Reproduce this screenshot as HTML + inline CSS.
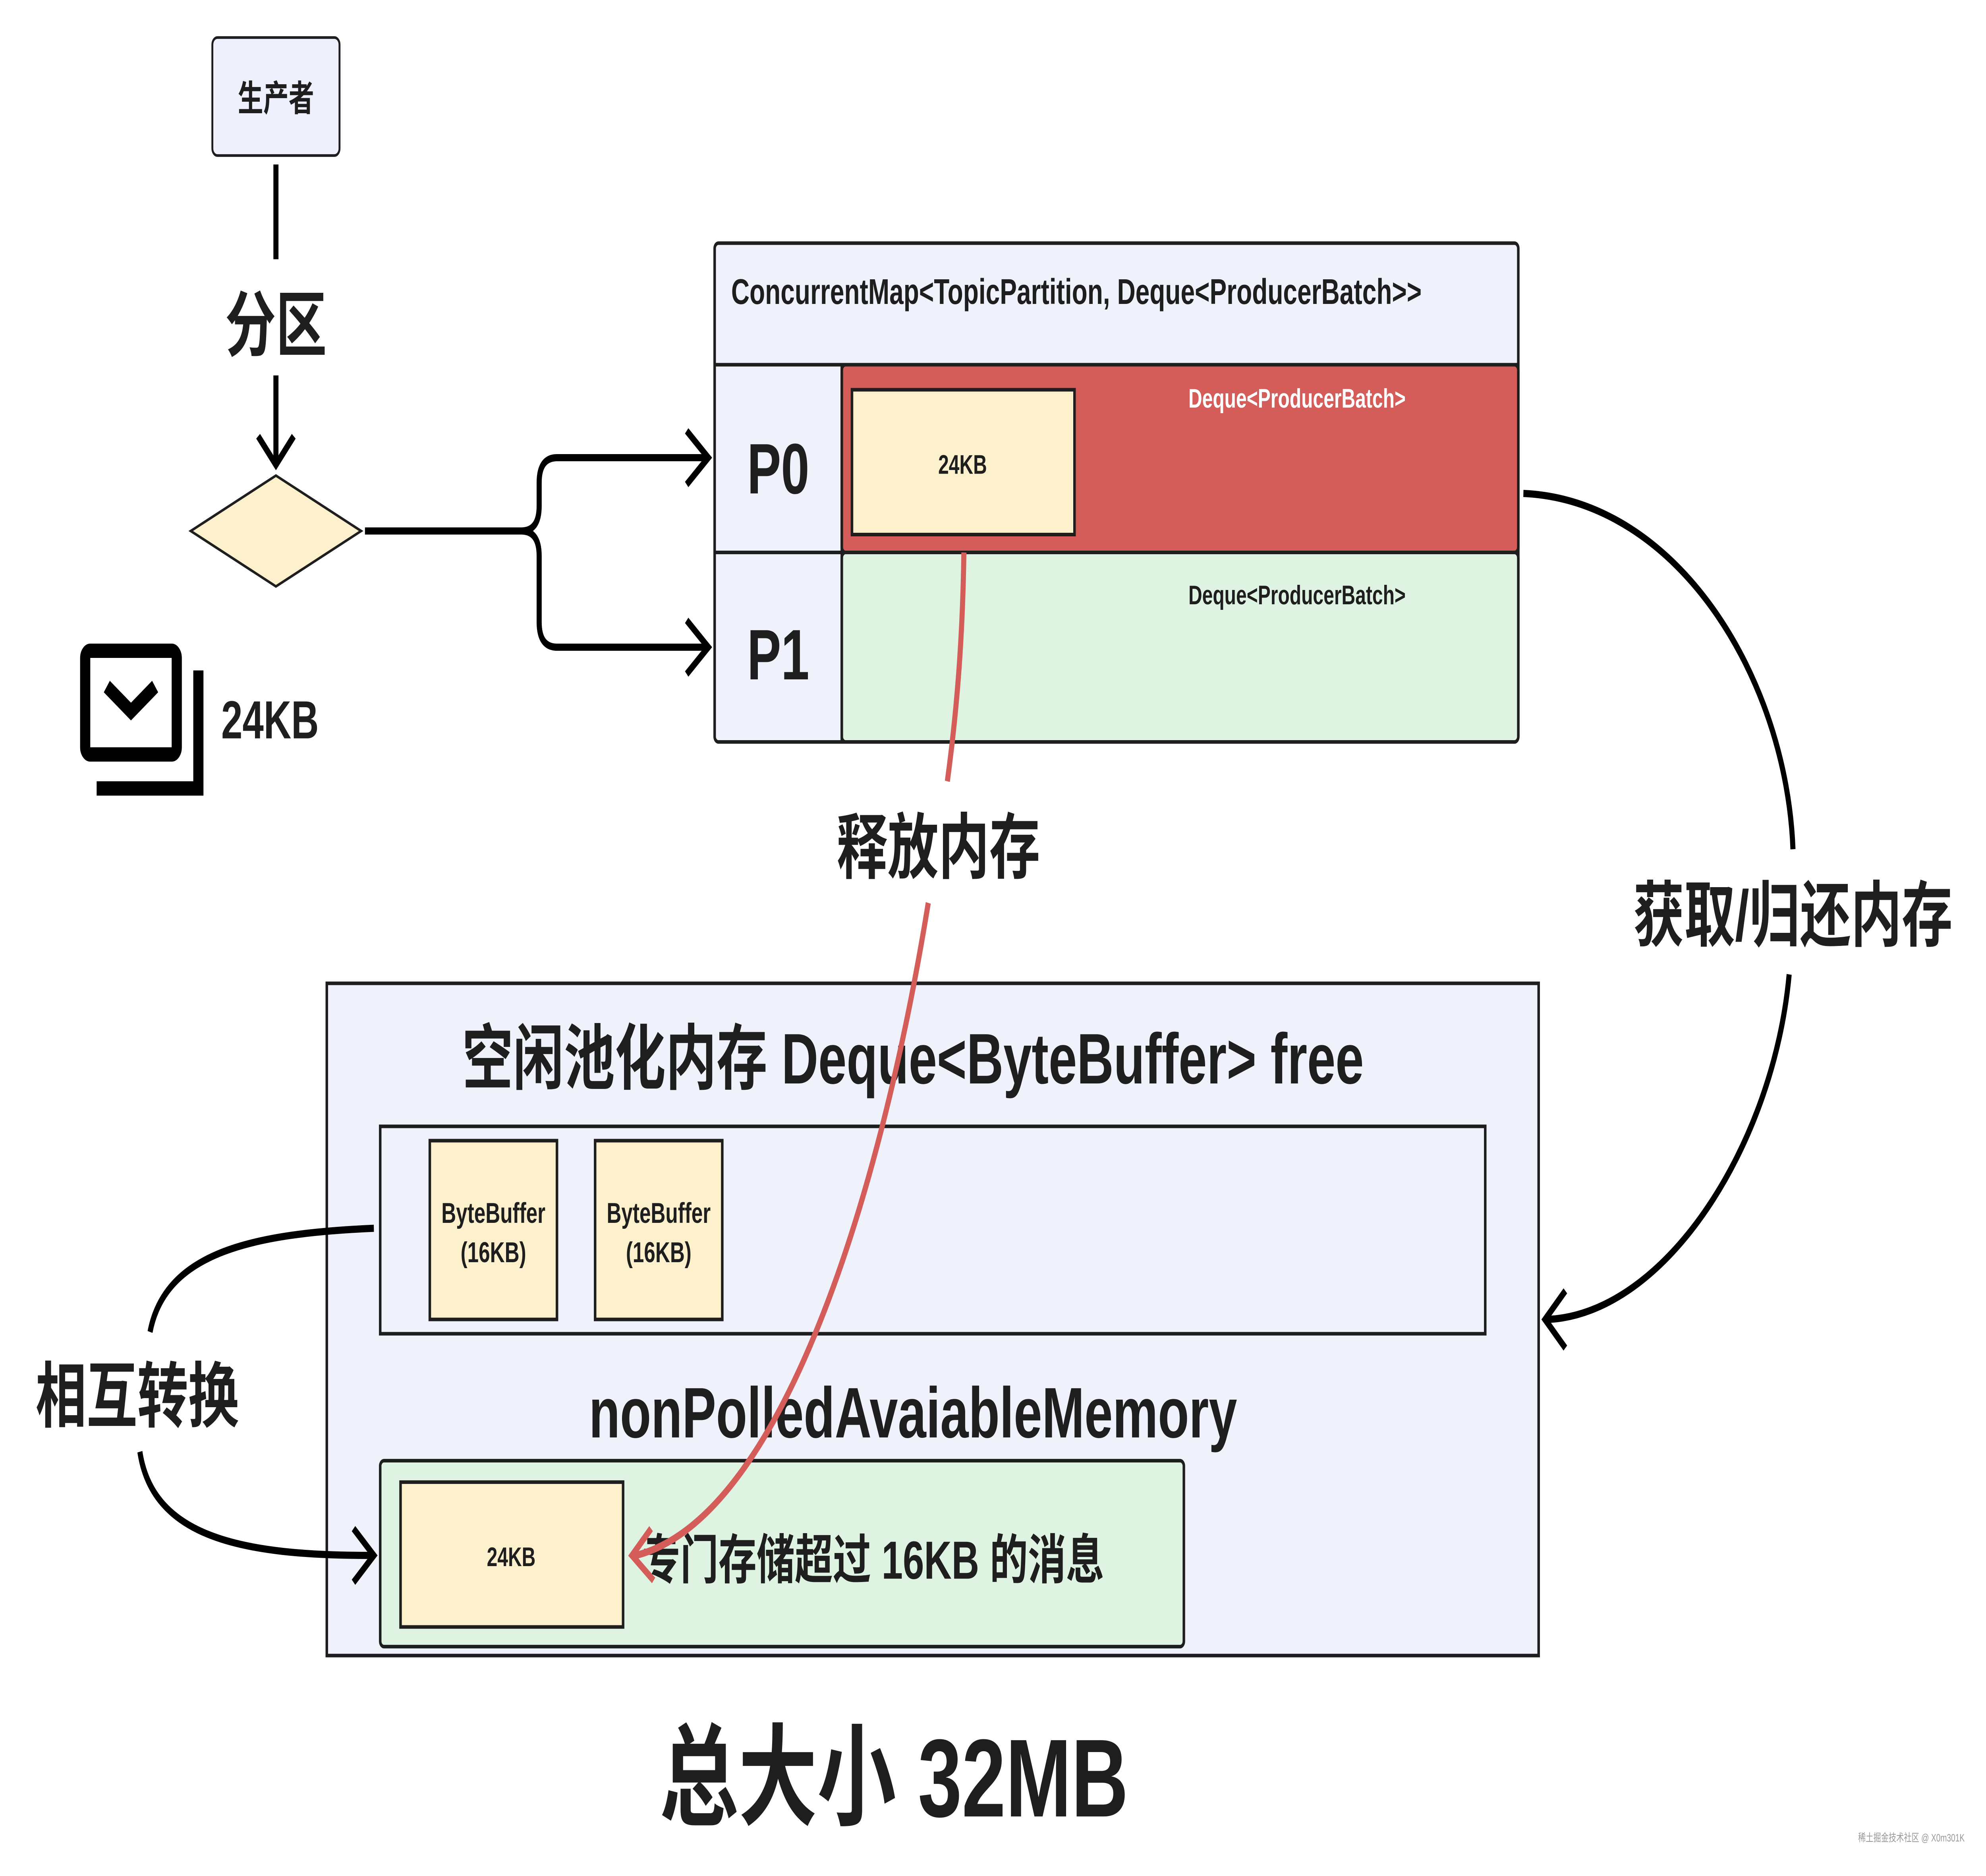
<!DOCTYPE html>
<html><head><meta charset="utf-8"><style>
html,body{margin:0;padding:0;background:#fff;width:100%;height:100%;overflow:hidden;}
svg{display:block;width:100vw;height:100vh;}
text{font-family:"Liberation Sans","Noto Sans CJK SC",sans-serif;fill:#1e1e1e;}
</style></head><body>
<svg viewBox="0 0 1561.8 1049.3" preserveAspectRatio="none" xmlns="http://www.w3.org/2000/svg">
<rect width="1561.8" height="1049.3" fill="#fff"/>
<!-- producer -->
<rect x="167" y="21" width="100" height="66" rx="4" fill="#eef1fb" stroke="#1e1e1e" stroke-width="1.5"/>
<text x="217" y="62" font-size="20" font-weight="bold" text-anchor="middle">生产者</text>
<line x1="217" y1="92" x2="217" y2="145" stroke="#000" stroke-width="4"/>
<text x="217" y="196" font-size="40" font-weight="bold" text-anchor="middle">分区</text>
<line x1="217" y1="210" x2="217" y2="258" stroke="#000" stroke-width="4"/>
<path d="M203,244 L217,260 L231,244" fill="none" stroke="#000" stroke-width="4"/>
<polygon points="150,297 217,266 284,297 217,328" fill="#fdf0cc" stroke="#1e1e1e" stroke-width="1.5"/>
<!-- brace -->
<path d="M287,297 L410,297 Q424,297 424,283 L424,270 Q424,256 438,256 L556,256" fill="none" stroke="#000" stroke-width="4"/>
<path d="M410,297 Q424,297 424,311 L424,348 Q424,362 438,362 L556,362" fill="none" stroke="#000" stroke-width="4"/>
<path d="M540,241 L557,256 L540,271" fill="none" stroke="#000" stroke-width="4"/>
<path d="M540,347 L557,362 L540,377" fill="none" stroke="#000" stroke-width="4"/>
<!-- mail icon -->
<rect x="67" y="364" width="72" height="58" rx="4" fill="none" stroke="#000" stroke-width="8"/>
<path d="M84,384 L103,398 L122,384" fill="none" stroke="#000" stroke-width="8"/>
<path d="M156,375 L156,441 L76,441" fill="none" stroke="#000" stroke-width="8"/>
<text x="174" y="413" font-size="30" font-weight="bold">24KB</text>
<!-- map -->
<rect x="562" y="136" width="632" height="279" rx="3" fill="#eff2fb" stroke="#1e1e1e" stroke-width="2"/>
<text x="575" y="170" font-size="20" font-weight="bold">ConcurrentMap&lt;TopicPartition, Deque&lt;ProducerBatch&gt;&gt;</text>
<line x1="562" y1="204" x2="1194" y2="204" stroke="#1e1e1e" stroke-width="2"/>
<rect x="662" y="204" width="532" height="105" rx="3" fill="#d45d5a" stroke="#1e1e1e" stroke-width="2"/>
<rect x="662" y="309" width="532" height="106" rx="3" fill="#dff3e3" stroke="#1e1e1e" stroke-width="2"/>
<line x1="562" y1="309" x2="662" y2="309" stroke="#1e1e1e" stroke-width="2"/>
<line x1="662" y1="204" x2="662" y2="415" stroke="#1e1e1e" stroke-width="2"/>
<text x="612" y="276" font-size="40" font-weight="bold" text-anchor="middle">P0</text>
<text x="612" y="380" font-size="40" font-weight="bold" text-anchor="middle">P1</text>
<rect x="670" y="218" width="175" height="81" fill="#fdf0cc" stroke="#1e1e1e" stroke-width="2"/>
<text x="757" y="265" font-size="15" font-weight="bold" text-anchor="middle">24KB</text>
<text x="1020" y="228" font-size="15" font-weight="bold" text-anchor="middle" style="fill:#fff">Deque&lt;ProducerBatch&gt;</text>
<text x="1020" y="338" font-size="15" font-weight="bold" text-anchor="middle">Deque&lt;ProducerBatch&gt;</text>
<!-- pool -->
<rect x="257" y="550" width="953" height="376" fill="#f0f2fb" stroke="#1e1e1e" stroke-width="2"/>
<text x="718" y="606" font-size="40" font-weight="bold" text-anchor="middle">空闲池化内存 Deque&lt;ByteBuffer&gt; free</text>
<rect x="299" y="630" width="869" height="116" fill="#f0f2fb" stroke="#1e1e1e" stroke-width="2"/>
<rect x="338" y="638" width="100" height="100" fill="#fdf0cc" stroke="#1e1e1e" stroke-width="2"/>
<rect x="468" y="638" width="100" height="100" fill="#fdf0cc" stroke="#1e1e1e" stroke-width="2"/>
<text x="388" y="684" font-size="16" font-weight="bold" text-anchor="middle">ByteBuffer</text>
<text x="388" y="706" font-size="16" font-weight="bold" text-anchor="middle">(16KB)</text>
<text x="518" y="684" font-size="16" font-weight="bold" text-anchor="middle">ByteBuffer</text>
<text x="518" y="706" font-size="16" font-weight="bold" text-anchor="middle">(16KB)</text>
<text x="718" y="804" font-size="40" font-weight="bold" text-anchor="middle">nonPolledAvaiableMemory</text>
<rect x="299" y="817" width="632" height="104" rx="3" fill="#dff3e3" stroke="#1e1e1e" stroke-width="2"/>
<rect x="315" y="829" width="175" height="81" fill="#fdf0cc" stroke="#1e1e1e" stroke-width="2"/>
<text x="402" y="876" font-size="15" font-weight="bold" text-anchor="middle">24KB</text>
<text x="505" y="883" font-size="30" font-weight="bold">专门存储超过 16KB 的消息</text>
<text x="703" y="1016" font-size="62" font-weight="bold" text-anchor="middle">总大小 32MB</text>
<!-- right curve -->
<path d="M1198,276 C1320,280 1405,380 1410,475" fill="none" stroke="#000" stroke-width="4"/>
<text x="1410" y="526" font-size="40" font-weight="bold" text-anchor="middle">获取/归还内存</text>
<path d="M1407,545 C1395,640 1310,735 1217,738" fill="none" stroke="#000" stroke-width="4"/>
<path d="M1231,722 L1215,738 L1231,754" fill="none" stroke="#000" stroke-width="4"/>
<!-- red curve -->
<path d="M758,309 C757,360 752,400 745,437" fill="none" stroke="#d45d5a" stroke-width="4"/>
<text x="738" y="488" font-size="40" font-weight="bold" text-anchor="middle">释放内存</text>
<path d="M730,505 C690,680 610,850 500,870" fill="none" stroke="#d45d5a" stroke-width="4"/>
<path d="M512,855 L497,870 L514,884" fill="none" stroke="#d45d5a" stroke-width="4"/>
<!-- left curve -->
<path d="M294,687 C200,690 130,700 118,745" fill="none" stroke="#000" stroke-width="4"/>
<text x="108" y="795" font-size="40" font-weight="bold" text-anchor="middle">相互转换</text>
<path d="M110,812 C120,860 190,870 292,870" fill="none" stroke="#000" stroke-width="4"/>
<path d="M278,855 L294,870 L278,885" fill="none" stroke="#000" stroke-width="4"/>
<text x="1545" y="1030" font-size="6" text-anchor="end" style="fill:#999">稀土掘金技术社区 @ X0m301K</text>
</svg>
</body></html>
